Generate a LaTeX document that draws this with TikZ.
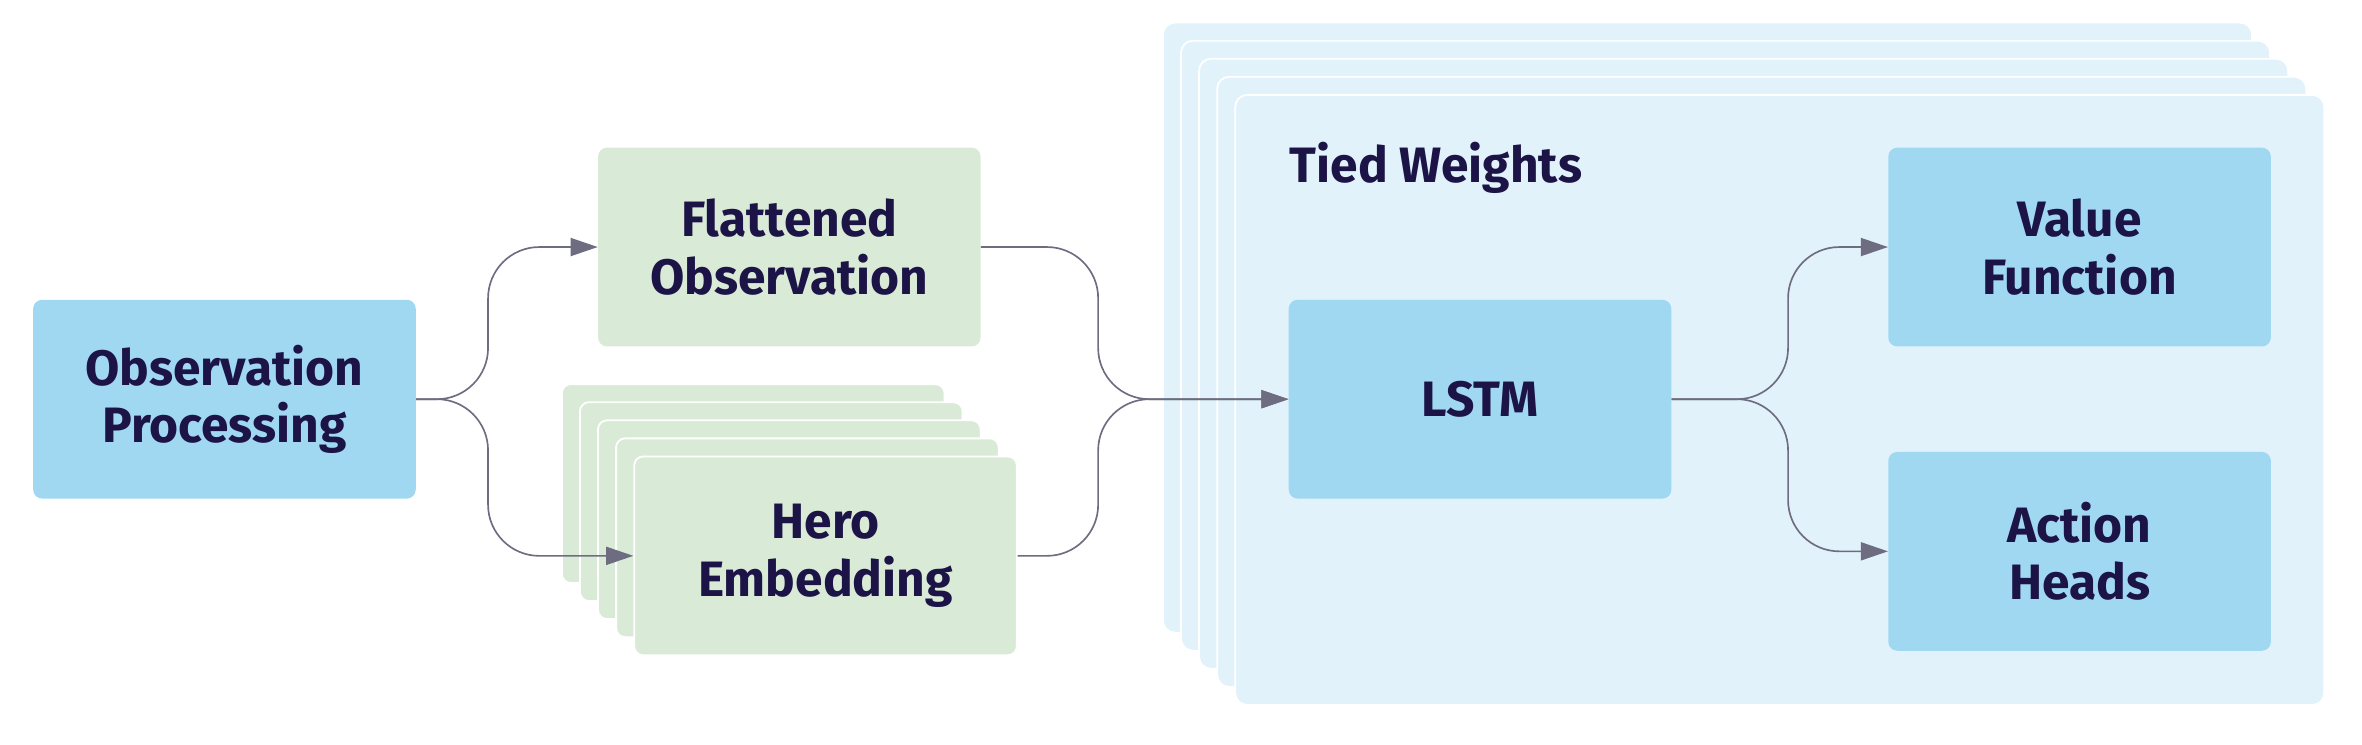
\documentclass[tikz,border=0pt]{standalone}
\usepackage{fontspec}
\setmainfont{Fira Sans}
\usetikzlibrary{arrows.meta}
\definecolor{boxblue}{HTML}{A0D8F1}
\definecolor{bgblue}{HTML}{E1F2FB}
\definecolor{boxgreen}{HTML}{D9EBD6}
\definecolor{txt}{HTML}{1C1446}
\definecolor{conncol}{HTML}{6E6C80}
\begin{document}
\begin{tikzpicture}[x=1pt,y=-1pt,
  box/.style={rounded corners=6pt, minimum width=254pt, minimum height=132pt, inner sep=0pt,
    align=center, font=\fontsize{33}{38}\selectfont\bfseries, text=txt},
  bluebox/.style={box, fill=boxblue},
  greenbox/.style={box, fill=boxgreen},
  greenlayer/.style={fill=boxgreen, draw=white, line width=1.2pt, rounded corners=6pt},
  bglayer/.style={fill=bgblue, draw=white, line width=1.2pt, rounded corners=8pt},
  conn/.style={draw=conncol, line width=1.1pt, rounded corners=34pt},
  arr/.style={conn, -{Triangle[length=18pt,width=12pt]}}]
\useasboundingbox (0,0) rectangle (1568,494);
% tied weights stack
\foreach \i in {0,...,4}
  \path[bglayer] ({772+12*\i},{15+12*\i}) rectangle ++(723,405);
\node[anchor=base west, font=\fontsize{33}{38}\selectfont\bfseries, text=txt, inner sep=0pt] (tied) at (856,121) {Tied Weights};
% hero stack
\foreach \i in {0,...,3}
  \path[greenlayer] ({373+12*\i},{255+12*\i}) rectangle ++(254,132);
\node[greenbox, draw=white, line width=1.2pt] (hero) at (548,369) {Hero\\Embedding};
% boxes
\node[bluebox] (obs) at (149,265) {Observation\\Processing};
\node[greenbox] (flat) at (524,164) {Flattened\\Observation};
\node[bluebox] (lstm) at (982.5,265) {LSTM};
\node[bluebox] (value) at (1380.5,164) {Value\\Function};
\node[bluebox] (action) at (1380.5,366) {Action\\Heads};
% junction columns
\coordinate (s1) at (324,265);
\coordinate (s2) at (729,265);
\coordinate (s3) at (1187,265);
% connectors
\draw[arr] (obs.east) -- (obs.east -| s1) |- (flat.west);
\draw[arr] (obs.east) -- (obs.east -| s1) |- (hero.west);
\draw[arr] (flat.east) -- (flat.east -| s2) |- (lstm.west);
\draw[arr] (hero.east) -- (hero.east -| s2) |- (lstm.west);
\draw[arr] (lstm.east) -- (lstm.east -| s3) |- (value.west);
\draw[arr] (lstm.east) -- (lstm.east -| s3) |- (action.west);
\end{tikzpicture}
\end{document}
